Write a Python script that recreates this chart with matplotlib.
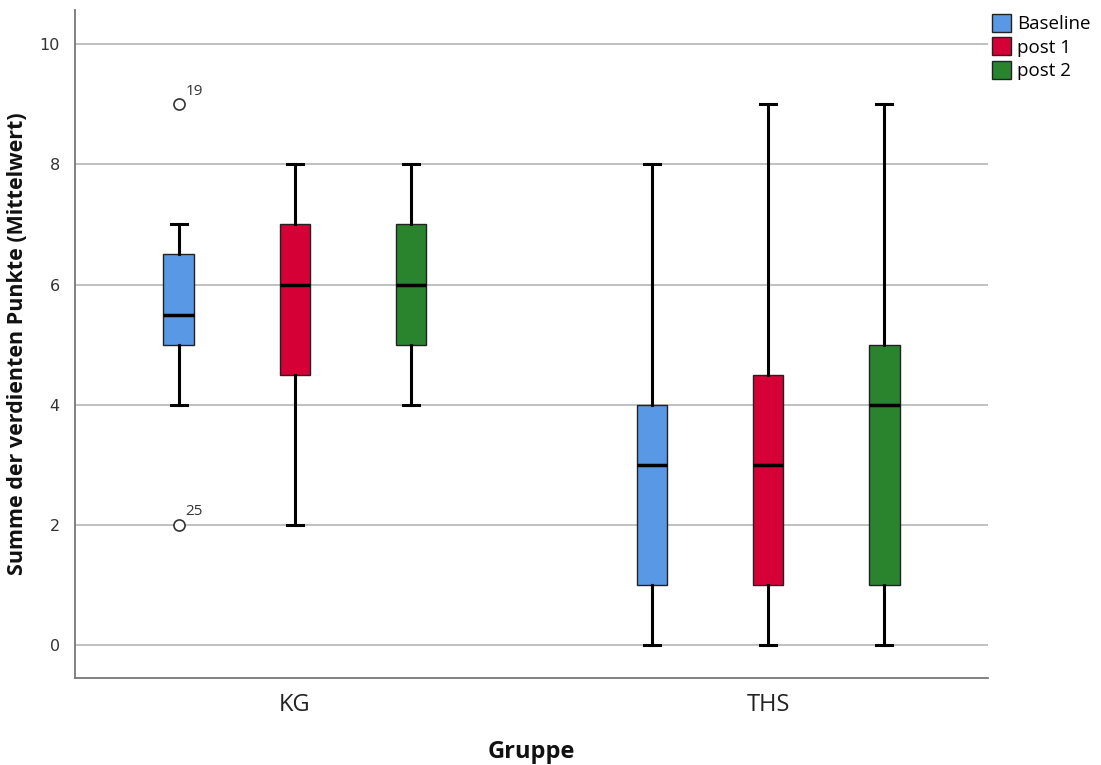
import matplotlib
matplotlib.use("Agg")
import matplotlib.pyplot as plt
from matplotlib.patches import Patch

groups = ["KG", "THS"]
series = ["Baseline", "post 1", "post 2"]
colors = ["#5898E4", "#D50036", "#2A842E"]

# stats per group -> per series: (whislo, q1, med, q3, whishi)
whislo = [[4, 2, 4], [0, 0, 0]]
q1 = [[5, 4.5, 5], [1, 1, 1]]
med = [[5.5, 6, 6], [3, 3, 4]]
q3 = [[6.5, 7, 7], [4, 4.5, 5]]
whishi = [[7, 8, 8], [8, 9, 9]]
fliers = [[[9, 2], [], []], [[], [], []]]
flier_labels = [[["19", "25"], [], []], [[], [], []]]

fig = plt.figure(figsize=(11.01, 7.65), dpi=100)
ax = fig.add_axes([75/1101, 1 - 678/765, (988-75)/1101, (678-10)/765])

offsets = [-0.246, 0, 0.246]
width = 0.064
for gi, g in enumerate(groups):
    for si, s in enumerate(series):
        pos = gi + offsets[si]
        st = dict(whislo=whislo[gi][si], q1=q1[gi][si], med=med[gi][si],
                  q3=q3[gi][si], whishi=whishi[gi][si], fliers=fliers[gi][si])
        ax.bxp([st], positions=[pos], widths=width, patch_artist=True,
               showfliers=True, manage_ticks=False,
               boxprops=dict(facecolor=colors[si], edgecolor="#222222", linewidth=1.0),
               medianprops=dict(color="black", linewidth=2.5, solid_capstyle="butt"),
               whiskerprops=dict(color="black", linewidth=2.2),
               capprops=dict(color="black", linewidth=2.2),
               capwidths=0.034,
               flierprops=dict(marker="o", markerfacecolor="white",
                               markeredgecolor="#333333", markersize=8, markeredgewidth=1.2),
               zorder=3)
        for v, lab in zip(fliers[gi][si], flier_labels[gi][si]):
            ax.annotate(lab, (pos, v), xytext=(5, 7), textcoords="offset points",
                        fontsize=11, color="#333333", family="Open Sans")

ax.set_xlim(-0.465, 1.465)
ax.set_ylim(-0.55, 10.57)
ax.set_yticks([0, 2, 4, 6, 8, 10])
ax.set_xticks([0, 1])
ax.set_xticklabels(groups, fontsize=17, family="Open Sans", color="#222222")
ax.tick_params(axis="y", length=0, labelsize=11.5, labelcolor="#333333", pad=11)
ax.tick_params(axis="x", length=0, pad=11)
for lab in ax.get_yticklabels():
    lab.set_family("DejaVu Sans")
ax.grid(axis="y", color="#BBBBBB", linewidth=1.3, zorder=0)
ax.set_axisbelow(True)
for side in ["top", "right"]:
    ax.spines[side].set_visible(False)
for side in ["left", "bottom"]:
    ax.spines[side].set_color("#777777")
    ax.spines[side].set_linewidth(1.3)

ax.set_ylabel("Summe der verdienten Punkte (Mittelwert)", fontsize=15.5,
              fontweight="bold", family="Open Sans", labelpad=8, color="#111111")
ax.set_xlabel("Gruppe", fontsize=17, fontweight="bold", family="Open Sans",
              labelpad=16, color="#111111")

handles = [Patch(facecolor=c, edgecolor="#222222", label=s) for c, s in zip(colors, series)]
fig.legend(handles=handles, loc="upper left", bbox_to_anchor=(988/1101, 1 - 10/765),
           frameon=False, prop=dict(family="Open Sans", size=13.5),
           handlelength=1.05, handleheight=1.1, handletextpad=0.3, labelspacing=0.22,
           borderaxespad=0, borderpad=0.2)

fig.savefig("out.png", dpi=100)
